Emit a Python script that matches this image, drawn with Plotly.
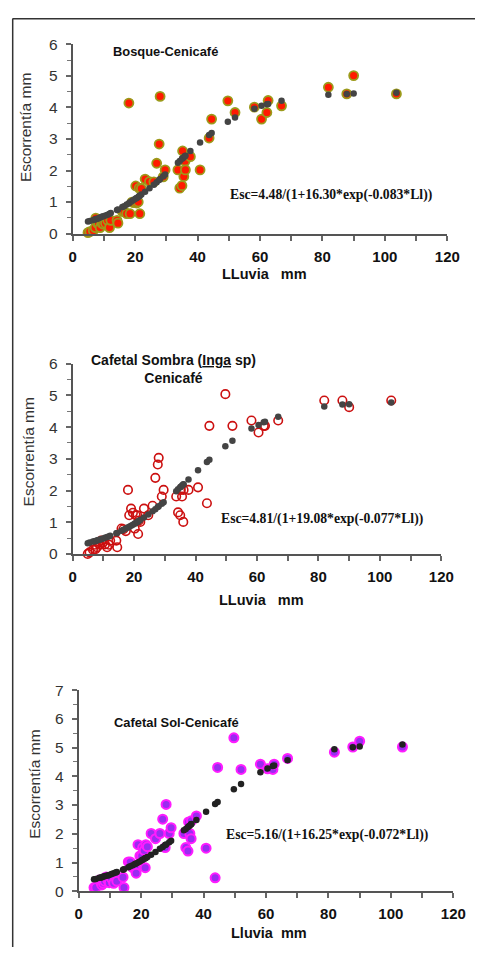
import plotly.graph_objects as go

# Rainfall events (mm) shared by the three plots
lluvia = [4.9, 5.5, 6.6, 7.2, 7.4, 7.9, 8.3, 8.8, 9.3, 9.8, 10.5, 11.2, 11.8, 12.2, 14.2, 14.5,
          15.9, 16.5, 17.3, 18.0, 18.4, 19.0, 19.6, 20.2, 20.5, 21.0, 21.3, 21.5, 22.0, 23.2,
          24.6, 26.0, 26.9, 27.7, 28.0, 29.0, 29.6, 33.7, 34.3, 35.0, 35.2, 35.6, 36.0, 36.1,
          37.7, 40.8, 43.7, 44.5, 49.7, 52.0, 58.2, 60.5, 62.2, 62.6, 66.9, 81.9, 87.8, 90.0, 103.7]

# Observed runoff (mm)
obs_bosque = [0.03, 0.06, 0.10, 0.19, 0.49, 0.33, 0.30, 0.19, 0.33, 0.30, 0.33, 0.42, 0.19, 0.42, 0.42, 0.33,
              0.70, 0.70, 0.63, 4.14, 0.63, 1.00, 0.98, 1.51, 0.97, 1.00, 1.44, 0.63, 1.43, 1.73,
              1.65, 1.64, 2.23, 2.84, 4.35, 1.80, 2.02, 2.02, 1.44, 1.52, 2.62, 1.81, 2.29, 2.02,
              2.44, 2.02, 3.03, 3.63, 4.21, 3.84, 4.01, 3.63, 3.84, 4.22, 4.05, 4.64, 4.43, 5.01, 4.43]
obs_sombra = [0.00, 0.05, 0.13, 0.29, 0.15, 0.21, 0.35, 0.29, 0.42, 0.35, 0.30, 0.21, 0.29, 0.42, 0.42, 0.21,
              0.80, 0.78, 0.72, 2.02, 1.22, 1.43, 1.30, 0.80, 1.22, 1.22, 0.63, 1.05, 1.01, 1.43,
              1.22, 1.52, 2.40, 2.82, 3.03, 1.81, 2.02, 1.81, 1.31, 1.22, 2.02, 1.81, 1.01, 2.02,
              2.02, 2.10, 1.60, 4.04, 5.04, 4.04, 4.21, 3.83, 4.04, 4.04, 4.21, 4.84, 4.84, 4.63, 4.84]
obs_sol = [0.13, 0.13, 0.39, 0.28, 0.22, 0.28, 0.35, 0.50, 0.39, 0.30, 0.45, 0.28, 0.49, 0.35, 0.49, 0.13,
           1.02, 1.02, 0.82, 0.82, 0.63, 1.62, 1.23, 1.23, 1.52, 1.42, 0.82, 1.62, 1.55, 2.01,
           1.83, 2.01, 2.51, 1.52, 3.02, 2.01, 2.21, 2.01, 1.52, 1.40, 2.41, 2.01, 1.83, 2.45,
           2.62, 1.50, 0.47, 4.31, 5.34, 4.24, 4.42, 4.26, 4.24, 4.42, 4.62, 4.84, 5.02, 5.22, 5.02]

# Fitted (logistic model) values read from the dark points
fit_bosque = [0.38, 0.40, 0.43, 0.45, 0.46, 0.47, 0.49, 0.51, 0.53, 0.55, 0.57, 0.60, 0.63, 0.65, 0.75, 0.76,
              0.84, 0.87, 0.92, 0.96, 0.99, 1.03, 1.07, 1.11, 1.13, 1.16, 1.19, 1.20, 1.24, 1.33,
              1.44, 1.55, 1.63, 1.70, 1.73, 1.82, 1.87, 2.25, 2.30, 2.37, 2.39, 2.42, 2.46, 2.47,
              2.62, 2.89, 3.13, 3.19, 3.55, 3.68, 3.96, 4.05, 4.10, 4.11, 4.21, 4.40, 4.43, 4.44, 4.47]
fit_sombra = [0.34, 0.36, 0.39, 0.40, 0.41, 0.42, 0.44, 0.45, 0.47, 0.48, 0.51, 0.53, 0.55, 0.57, 0.65, 0.66,
              0.73, 0.76, 0.80, 0.83, 0.86, 0.89, 0.92, 0.96, 0.97, 1.01, 1.02, 1.04, 1.07, 1.15,
              1.24, 1.35, 1.41, 1.48, 1.50, 1.58, 1.63, 1.98, 2.04, 2.10, 2.12, 2.16, 2.19, 2.20,
              2.35, 2.64, 2.90, 2.97, 3.40, 3.57, 3.96, 4.07, 4.15, 4.17, 4.33, 4.65, 4.71, 4.72, 4.78]
fit_sol = [0.42, 0.43, 0.47, 0.48, 0.49, 0.51, 0.52, 0.54, 0.55, 0.57, 0.60, 0.63, 0.65, 0.67, 0.75, 0.77,
           0.84, 0.87, 0.91, 0.95, 0.97, 1.00, 1.04, 1.08, 1.10, 1.13, 1.15, 1.16, 1.19, 1.27,
           1.37, 1.48, 1.54, 1.61, 1.63, 1.71, 1.76, 2.12, 2.17, 2.24, 2.25, 2.29, 2.33, 2.34,
           2.48, 2.77, 3.04, 3.11, 3.55, 3.73, 4.14, 4.27, 4.36, 4.38, 4.56, 4.94, 5.01, 5.04, 5.11]

titles = ["<b>Bosque-Cenicafé</b>",
          "<b>Cafetal Sombra (<u>Inga</u> sp)</b><br><b>Cenicafé</b>",
          "<b>Cafetal Sol-Cenicafé</b>"]
equations = ["Esc=4.48/(1+16.30*exp(-0.083*Ll))",
             "Esc=4.81/(1+19.08*exp(-0.077*Ll))",
             "Esc=5.16/(1+16.25*exp(-0.072*Ll))"]
xtitles = ["LLuvia   mm", "LLuvia   mm", "Lluvia  mm"]
ytitle = "Escorrentía mm"
ymax = [6, 6, 7]

# Figure sits inside the default 8px page margin; the photographed page was
# observed to be slightly scaled, so target picture pixels are mapped back.
OFF = 8
W, H = 496 - 2 * OFF, 963 - 2 * OFF
SX, AX, SY, AY = 0.963, 3.7, 0.981, 7.8
def fx(X): return ((X - AX) / SX - OFF) / W
def fy(Y): return 1 - ((Y - AY) / SY - OFF) / H

# plot areas in picture pixels: (x0, x1, y_bottom, y_top)
areas = [(72, 446, 232, 43), (72, 440, 552, 362), (78, 452, 889, 688)]

fig = go.Figure()

obs_sets = [obs_bosque, obs_sombra, obs_sol]
fit_sets = [fit_bosque, fit_sombra, fit_sol]
obs_markers = [
    dict(symbol="circle", size=9, color="#ff1a00", line=dict(color="#9c9a1a", width=1.8)),
    dict(symbol="circle-open", size=8.5, color="#cc1010", line=dict(color="#cc1010", width=1.6)),
    dict(symbol="circle", size=9, color="#9a2cf0", line=dict(color="#ff1cff", width=2)),
]
fit_colors = ["#444444", "#444444", "#222222"]

for i in range(3):
    xa = "x" if i == 0 else f"x{i+1}"
    ya = "y" if i == 0 else f"y{i+1}"
    fig.add_trace(go.Scatter(x=lluvia, y=obs_sets[i], mode="markers", marker=obs_markers[i],
                             xaxis=xa, yaxis=ya, cliponaxis=False, showlegend=False))
    fig.add_trace(go.Scatter(x=lluvia, y=fit_sets[i], mode="markers",
                             marker=dict(symbol="circle", size=6.5, color=fit_colors[i]),
                             xaxis=xa, yaxis=ya, cliponaxis=False, showlegend=False))

layout = dict(width=W, height=H, margin=dict(l=0, r=0, t=0, b=0),
              paper_bgcolor="white", plot_bgcolor="white", showlegend=False)

for i, (x0, x1, yb, yt) in enumerate(areas):
    xk = "xaxis" if i == 0 else f"xaxis{i+1}"
    yk = "yaxis" if i == 0 else f"yaxis{i+1}"
    ya = "y" if i == 0 else f"y{i+1}"
    xa = "x" if i == 0 else f"x{i+1}"
    layout[xk] = dict(domain=[fx(x0), fx(x1)], range=[0, 120], anchor=ya,
                      tickmode="linear", tick0=0, dtick=20, showgrid=False, zeroline=False,
                      showline=True, linecolor="#555555", linewidth=2,
                      ticks="outside", ticklen=5, tickwidth=1.5, tickcolor="#666666",
                      minor=dict(dtick=10, ticks="outside", ticklen=5, tickwidth=1.5, tickcolor="#666666"),
                      tickfont=dict(family="Liberation Sans, Arial", size=15, color="#111111", weight="bold"),
                      ticklabelstandoff=3)
    layout[yk] = dict(domain=[fy(yb), fy(yt)], range=[0, ymax[i]], anchor=xa,
                      tickmode="linear", tick0=0, dtick=1, showgrid=False, zeroline=False,
                      showline=True, linecolor="#555555", linewidth=2,
                      ticks="outside", ticklen=5, tickwidth=1.5, tickcolor="#666666",
                      minor=dict(dtick=0.5, ticks="outside", ticklen=4, tickwidth=1.2, tickcolor="#777777"),
                      tickfont=dict(family="Liberation Sans Narrow, Arial Narrow, Liberation Sans", size=15.5, color="#333333"),
                      ticklabelstandoff=5)

fig.update_layout(**layout)

ytitle_pos = [(25, 126), (28, 450), (34, 782)]
xtitle_pos = [(263, 272), (260, 598), (268, 931)]
title_pos = [(165, 50), (173, 367), (176, 720)]
title_sizes = [12.9, 14, 12.9]
eq_pos = [(330, 193), (321, 517), (326, 833)]

def ann(x, y, text, font, angle=0, align="center"):
    fig.add_annotation(x=fx(x), y=fy(y), xref="paper", yref="paper", text=text, textangle=angle,
                       showarrow=False, xanchor="center", yanchor="middle", align=align, font=font)

for i in range(3):
    ann(ytitle_pos[i][0], ytitle_pos[i][1], ytitle,
        dict(family="Liberation Sans Narrow, Arial Narrow, Liberation Sans", size=15.5, color="#333333"), angle=-90)
    ann(xtitle_pos[i][0], xtitle_pos[i][1], "<b>" + xtitles[i].replace(" ", "&nbsp;") + "</b>",
        dict(family="Liberation Sans, Arial", size=14.5, color="#111111"))
    ann(title_pos[i][0], title_pos[i][1], titles[i],
        dict(family="Liberation Sans, Arial", size=title_sizes[i], color="#111111"))
    ann(eq_pos[i][0], eq_pos[i][1], "<b>" + equations[i] + "</b>",
        dict(family="Liberation Serif, Times New Roman", size=13.7, color="#111111"))

# frame lines (top and left) of the scanned page, as close to the corner as the figure allows
fig.add_shape(type="line", xref="paper", yref="paper", x0=0.001, y0=0.998, x1=1, y1=0.998,
              line=dict(color="#333333", width=1.5))
fig.add_shape(type="line", xref="paper", yref="paper", x0=0.0015, y0=0.998, x1=0.0015, y1=0,
              line=dict(color="#333333", width=1.5))

fig.write_html("out.html", config={"displayModeBar": False})
